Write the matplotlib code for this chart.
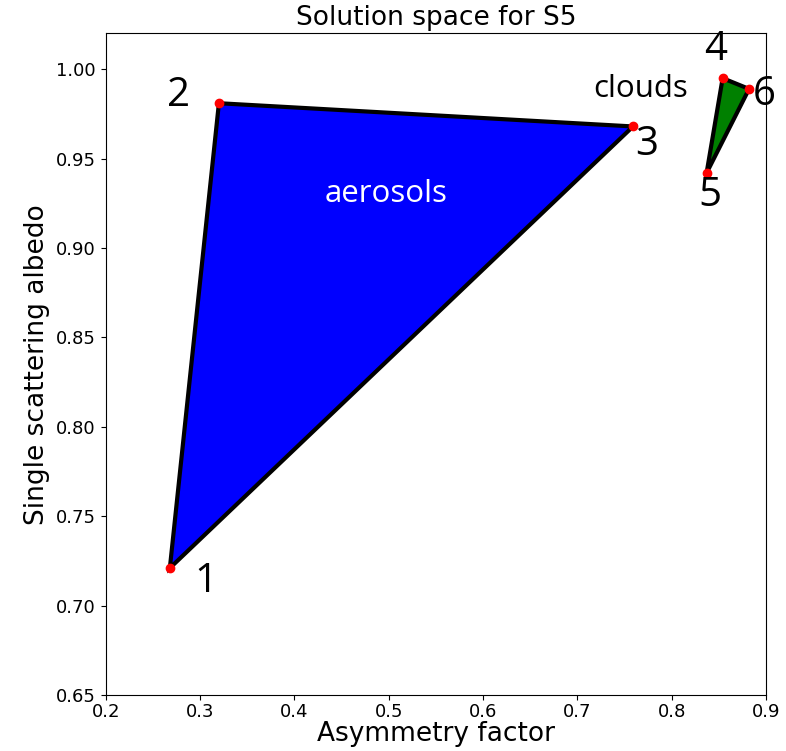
import matplotlib
matplotlib.use("Agg")
import matplotlib.pyplot as plt
from matplotlib.patches import Polygon

# corner points of the solution space (asymmetry factor, single scattering albedo)
point_ids = ["1", "2", "3", "4", "5", "6"]
asym = [0.268, 0.320, 0.759, 0.854, 0.837, 0.882]
ssa = [0.721, 0.981, 0.968, 0.995, 0.942, 0.989]

aerosol_idx = [0, 1, 2]
cloud_idx = [3, 5, 4]

# label anchors for the corner numbers
label_x = [0.306, 0.277, 0.774, 0.847, 0.841, 0.898]
label_y = [0.7135, 0.985, 0.958, 1.011, 0.929, 0.986]

annot_font = ["Open Sans", "DejaVu Sans"]

fig = plt.figure(figsize=(7.86, 7.51), dpi=100)
ax = fig.add_axes([0.1345, 0.0746, 0.8401, 0.8808])

for idx, color in [(aerosol_idx, "blue"), (cloud_idx, "green")]:
    verts = [(asym[i], ssa[i]) for i in idx]
    ax.add_patch(Polygon(verts, closed=True, facecolor=color,
                         edgecolor="black", linewidth=3, zorder=2))

ax.plot(asym, ssa, "o", color="red", markersize=6, zorder=3)

for pid, lx, ly in zip(point_ids, label_x, label_y):
    ax.text(lx, ly, pid, fontsize=29, family=annot_font,
            ha="center", va="center", zorder=4)

ax.text(0.767, 0.989, "clouds", fontsize=22.5, family=annot_font,
        ha="center", va="center")
ax.text(0.497, 0.930, "aerosols", fontsize=22.5, family=annot_font,
        ha="center", va="center", color="white")

ax.set_xlim(0.2, 0.9)
ax.set_ylim(0.65, 1.02)
ax.set_xticks([0.2, 0.3, 0.4, 0.5, 0.6, 0.7, 0.8, 0.9])
ax.set_xticklabels(["0.2", "0.3", "0.4", "0.5", "0.6", "0.7", "0.8", "0.9"])
ax.set_yticks([0.65, 0.70, 0.75, 0.80, 0.85, 0.90, 0.95, 1.00])
ax.tick_params(labelsize=13)
ax.tick_params(axis="x", pad=2.5)
ax.set_xlabel("Asymmetry factor", fontsize=19, labelpad=0)
ax.set_ylabel("Single scattering albedo", fontsize=19)
ax.set_title("Solution space for S5", fontsize=19)

fig.savefig("out.png", dpi=100)
